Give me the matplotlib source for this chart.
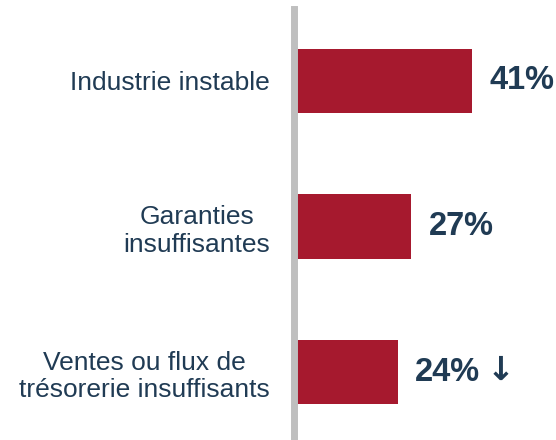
import matplotlib.pyplot as plt

categories = ["Industrie instable", "Garanties\ninsuffisantes", "Ventes ou flux de\ntrésorerie insuffisants"]
values = [41, 27, 24]
suffixes = ["", "", " \u2193"]

bar_color = "#A6192E"
text_color = "#203B54"

plt.rcParams['font.family'] = ['Liberation Sans', 'DejaVu Sans']

fig = plt.figure(figsize=(5.56, 4.40), dpi=100)
ax = fig.add_axes([293.5 / 556, 0, 1 - 293.5 / 556, 431 / 440])

ypos = list(range(len(categories)))
ax.barh(ypos, values, height=0.44, color=bar_color, zorder=1)

ax.set_xlim(0, 60.3)
ax.set_ylim(2.466, -0.493)

for y, v, s in zip(ypos, values, suffixes):
    ax.annotate(f"{v}%", xy=(v, y), xytext=(12.5, 0), textcoords="offset points",
                ha="left", va="center", fontsize=23.5, fontweight="bold", color=text_color)
    if s:
        ax.annotate("\u2193", xy=(v, y), xytext=(64, 1), textcoords="offset points",
                    ha="left", va="center", fontsize=24, fontweight="bold", color=text_color,
                    family="DejaVu Sans")

ax.set_yticks(ypos)
ax.set_yticklabels(categories, fontsize=19, color=text_color)
for lab in ax.get_yticklabels():
    lab.set_multialignment("center")
    lab.set_linespacing(1.2)
ax.tick_params(axis="y", length=0, pad=17)
ax.set_xticks([])

for side in ["top", "right", "bottom"]:
    ax.spines[side].set_visible(False)
ax.spines["left"].set_color("#BFBFBF")
ax.spines["left"].set_linewidth(5.0)
ax.spines["left"].set_zorder(3)

fig.savefig("out.png", dpi=100)
